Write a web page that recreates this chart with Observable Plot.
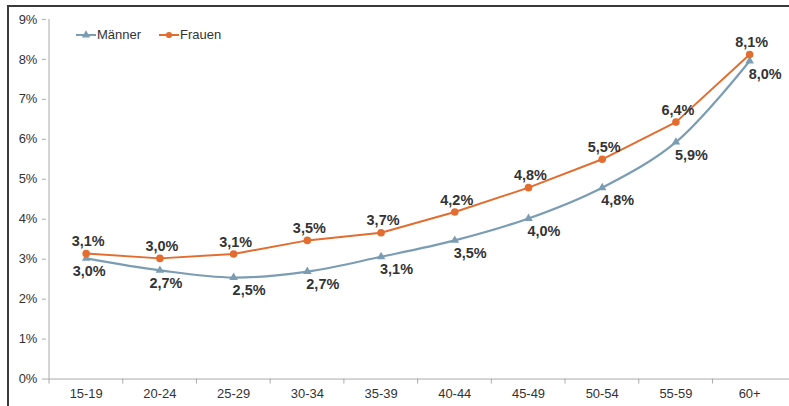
<!DOCTYPE html>
<html>
<head>
<meta charset="utf-8">
<script src="https://cdn.jsdelivr.net/npm/d3@7"></script>
<script src="https://cdn.jsdelivr.net/npm/@observablehq/plot@0.6"></script>
<style>
  html, body { margin: 0; padding: 0; overflow: hidden; background: #fff; }
  body { width: 789px; height: 406px; position: relative; font-family: "Liberation Sans", Arial, Helvetica, sans-serif; }
  #frame { position: absolute; left: 7px; top: 5px; width: 790px; height: 410px; border-left: 2px solid #3a3a3a; border-top: 2px solid #3a3a3a; pointer-events: none; }
  #chart { position: absolute; left: 0; top: 0; width: 789px; height: 406px; overflow: hidden; }
  #legend { position: absolute; left: 76px; top: 27px; display: flex; align-items: center; font-size: 13px; color: #333; }
  #legend .item { display: flex; align-items: center; margin-right: 18px; }
  #legend svg { margin-right: 1px; }
</style>
</head>
<body>
<div id="chart"></div>
<div id="frame"></div>
<div id="legend"></div>
<script>
const categories = ["15-19","20-24","25-29","30-34","35-39","40-44","45-49","50-54","55-59","60+"];
const maenner = [3.02, 2.72, 2.54, 2.69, 3.06, 3.47, 4.02, 4.79, 5.93, 7.96];
const frauen  = [3.14, 3.02, 3.13, 3.47, 3.66, 4.18, 4.79, 5.50, 6.43, 8.12];
const yTicks = [0,1,2,3,4,5,6,7,8,9];
const seriesNames = ["Männer", "Frauen"];

const colM = "#7b9db3";
const colF = "#e36c2f";
const txt = "#333";

const fmt = v => d3.format(".1f")(v).replace(".", ",") + "%";
const dataM = categories.map((c, i) => ({cat: c, v: maenner[i], i}));
const dataF = categories.map((c, i) => ({cat: c, v: frauen[i], i}));

const W = 792, H = 406, mL = 46, mR = 0;
const bw = (W - mL - mR) / categories.length;
const labelStyle = {x: "cat", y: "v", text: d => fmt(d.v), fontWeight: "bold", fontSize: 14.5, fill: txt};

const plot = Plot.plot({
  width: W,
  height: H,
  marginLeft: mL,
  marginRight: mR,
  marginTop: 19,
  marginBottom: 26,
  style: {fontFamily: '"Liberation Sans", Arial, Helvetica, sans-serif', fontSize: "13px", color: txt, background: "transparent"},
  x: {type: "band", domain: categories, padding: 0, label: null},
  y: {domain: [0, 9], label: null},
  marks: [
    Plot.axisY({ticks: yTicks, tickFormat: d => d + "%", tickSize: 4, tickPadding: 5, stroke: "#aaa", fill: txt, fontSize: 13}),
    Plot.ruleX([0], {x: () => categories[0], dx: -bw/2, y1: 0, y2: 9, stroke: "#aaa"}),
    Plot.ruleY([0], {stroke: "#aaa"}),
    Plot.ruleX(categories, {x: d => d, dx: -bw/2, y1: 0, y2: 0, insetBottom: -5, stroke: "#aaa"}),
    Plot.axisX({tickSize: 0, tickPadding: 10, fill: txt, fontSize: 13}),
    Plot.line(dataM, {x: "cat", y: "v", stroke: colM, strokeWidth: 2.2, curve: "catmull-rom"}),
    Plot.line(dataF, {x: "cat", y: "v", stroke: colF, strokeWidth: 2}),
    Plot.dot(dataM, {x: "cat", y: "v", symbol: "triangle", r: 3.2, fill: colM, stroke: null}),
    Plot.dot(dataF, {x: "cat", y: "v", symbol: "circle", r: 3.8, fill: colF, stroke: null}),
    Plot.text(dataF, {...labelStyle, dy: -12, dx: 2}),
    Plot.text(dataM.filter(d => d.i === 0), {...labelStyle, dy: 13, dx: 3}),
    Plot.text(dataM.filter(d => d.i === 1), {...labelStyle, dy: 13, dx: 6}),
    Plot.text(dataM.filter(d => d.i >= 2), {...labelStyle, dy: 13, dx: -1, textAnchor: "start"})
  ]
});
document.getElementById("chart").appendChild(plot);

// legend
const legend = document.getElementById("legend");
const legendCols = [colM, colF];
const legendSymbols = ["triangle", "circle"];
seriesNames.forEach((name, k) => {
  const item = document.createElement("div");
  item.className = "item";
  const sw = d3.create("svg").attr("width", 20).attr("height", 14);
  sw.append("line").attr("x1", 0).attr("x2", 20).attr("y1", 7).attr("y2", 7).attr("stroke", legendCols[k]).attr("stroke-width", 2);
  const sym = legendSymbols[k] === "triangle" ? d3.symbol(d3.symbolTriangle, 30) : d3.symbol(d3.symbolCircle, 30);
  sw.append("path").attr("d", sym()).attr("transform", "translate(10,7)").attr("fill", legendCols[k]);
  item.appendChild(sw.node());
  const label = document.createElement("span");
  label.textContent = name;
  item.appendChild(label);
  legend.appendChild(item);
});
</script>
</body>
</html>
